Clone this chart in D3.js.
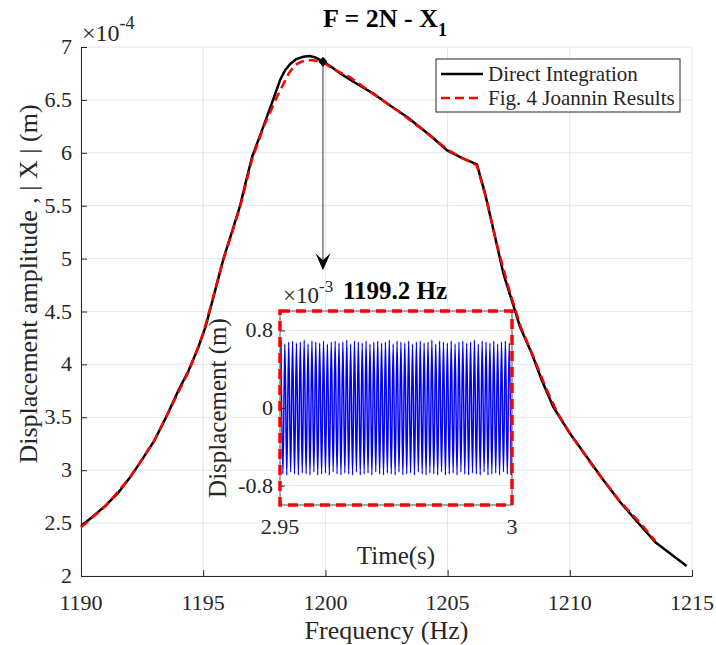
<!DOCTYPE html>
<html>
<head>
<meta charset="utf-8">
<title>F = 2N - X1</title>
<script src="https://cdn.jsdelivr.net/npm/d3@7"></script>
<style>
  body { margin: 0; background: #fff; }
  svg text { font-family: "Liberation Serif", "Times New Roman", serif; fill: #262626; }
</style>
</head>
<body>
<script>
// Direct Integration (black solid), amplitude in 1e-4 m
var diFreq = [1190, 1190.5, 1191, 1191.5, 1192, 1192.5, 1193, 1193.5, 1194, 1194.4, 1194.8, 1195.1, 1195.4,
  1195.83, 1196.2, 1196.51, 1196.75, 1197.0, 1197.4, 1197.81, 1198.15, 1198.35, 1198.56, 1198.8, 1199.1,
  1199.35, 1199.6, 1199.92, 1200.25, 1200.6, 1201.3, 1201.96, 1202.6, 1203.33, 1204.35, 1204.96, 1205.6,
  1206.2, 1206.53, 1206.94, 1207.28, 1207.62, 1207.96, 1208.44, 1208.85, 1209.32, 1210.0, 1210.69,
  1211.37, 1212.05, 1212.73, 1213.5, 1214.78];
var diAmp = [2.473, 2.565, 2.665, 2.78, 2.93, 3.10, 3.28, 3.51, 3.76, 3.94, 4.16, 4.36, 4.62,
  5.0, 5.27, 5.5, 5.73, 5.96, 6.21, 6.47, 6.69, 6.78, 6.84, 6.885, 6.908,
  6.915, 6.90, 6.861, 6.81, 6.751, 6.65, 6.56, 6.455, 6.341, 6.152, 6.026, 5.95,
  5.89, 5.617, 5.207, 4.861, 4.609, 4.356, 4.105, 3.853, 3.6, 3.349, 3.128,
  2.907, 2.702, 2.52, 2.32, 2.095];

// Fig. 4 Joannin results (red dashed)
var jrFreq = [1190, 1191, 1192, 1193, 1193.65, 1194.4, 1195.0, 1195.8, 1196.5, 1197.0, 1197.5, 1198.0,
  1198.5, 1198.75, 1199.0, 1199.25, 1199.5, 1199.75, 1200.0, 1200.5, 1201.0, 1202.0, 1203.0, 1204.0,
  1205.0, 1205.6, 1206.2, 1206.6, 1207.0, 1207.5, 1208.0, 1208.5, 1209.0, 1209.5, 1210.0, 1211.0,
  1212.0, 1213.0, 1213.5];
var jrAmp = [2.46, 2.66, 2.93, 3.28, 3.58, 3.93, 4.29, 4.97, 5.48, 5.94, 6.26, 6.52,
  6.75, 6.83, 6.86, 6.875, 6.875, 6.86, 6.84, 6.77, 6.715, 6.55, 6.39, 6.215,
  6.03, 5.95, 5.88, 5.55, 5.15, 4.72, 4.35, 4.08, 3.79, 3.54, 3.35, 3.02,
  2.72, 2.47, 2.33];

var xTicks = [1190, 1195, 1200, 1205, 1210, 1215];
var yTicks = [2, 2.5, 3, 3.5, 4, 4.5, 5, 5.5, 6, 6.5, 7];

// inset: time response at 1199.2 Hz, displacement in 1e-3 m
var sigFreq = 1199.2;
var sigPeaks = [0.69, 0.66, 0.68, 0.69, 0.67, 0.68, 0.70, 0.66, 0.69, 0.68, 0.67, 0.69, 0.66, 0.68, 0.69, 0.67,
  0.68, 0.70, 0.66, 0.69, 0.68, 0.67, 0.69, 0.66, 0.68, 0.69, 0.67, 0.68, 0.70, 0.66, 0.69, 0.68,
  0.67, 0.69, 0.66, 0.68, 0.69, 0.67, 0.68, 0.70, 0.66, 0.69, 0.68, 0.67, 0.69, 0.66, 0.68, 0.69,
  0.67, 0.68, 0.70, 0.66, 0.69, 0.68, 0.67, 0.69, 0.66, 0.68, 0.69, 0.67];
var sigTroughs = [-0.68, -0.69, -0.66, -0.68, -0.69, -0.67, -0.68, -0.69, -0.66, -0.69, -0.68, -0.67, -0.69, -0.66, -0.68, -0.69,
  -0.67, -0.68, -0.69, -0.66, -0.69, -0.68, -0.67, -0.69, -0.66, -0.68, -0.69, -0.67, -0.68, -0.69, -0.66, -0.69,
  -0.68, -0.67, -0.69, -0.66, -0.68, -0.69, -0.67, -0.68, -0.69, -0.66, -0.69, -0.68, -0.67, -0.69, -0.66, -0.68,
  -0.69, -0.67, -0.68, -0.69, -0.66, -0.69, -0.68, -0.67, -0.69, -0.66, -0.68, -0.69];
var insetXTicks = [2.95, 3];
var insetXLabels = ["2.95", "3"];
var insetYTicks = [-0.8, 0, 0.8];

// annotation arrow (frequency, amplitude top, amplitude bottom)
var arrowFreq = 1199.9, arrowTop = 6.86, arrowBottom = 4.89;

var FONT = "'Liberation Serif', 'Times New Roman', serif";
var W = 716, H = 645;
var margin = {top: 47, right: 24, bottom: 69, left: 81};
var width = W - margin.left - margin.right,
    height = H - margin.top - margin.bottom;

var svg = d3.select("body").append("svg")
    .attr("width", W).attr("height", H);

var g = svg.append("g")
    .attr("transform", "translate(" + margin.left + "," + margin.top + ")");

var x = d3.scaleLinear().domain([1190, 1215]).range([0, width]);
var y = d3.scaleLinear().domain([2, 7]).range([height, 0]);

// grid
g.append("g").selectAll("line").data(yTicks).enter().append("line")
    .attr("x1", 0).attr("x2", width)
    .attr("y1", d => y(d)).attr("y2", d => y(d))
    .attr("stroke", "#e6e6e6").attr("stroke-width", 1);
g.append("g").selectAll("line").data(xTicks).enter().append("line")
    .attr("y1", 0).attr("y2", height)
    .attr("x1", d => x(d)).attr("x2", d => x(d))
    .attr("stroke", "#e6e6e6").attr("stroke-width", 1);

// axes: line + inward ticks from d3, labels drawn as plain text
var xAxis = g.append("g")
    .attr("transform", "translate(0," + height + ")")
    .call(d3.axisBottom(x).tickValues(xTicks).tickFormat("").tickSizeInner(-6).tickSizeOuter(0));
var yAxis = g.append("g")
    .call(d3.axisLeft(y).tickValues(yTicks).tickFormat("").tickSizeInner(-6).tickSizeOuter(0));
[xAxis, yAxis].forEach(function(a) {
    a.select(".domain").attr("stroke", "#262626");
    a.selectAll(".tick line").attr("stroke", "#262626");
});
g.append("g").selectAll("text").data(xTicks).enter().append("text")
    .attr("x", d => x(d)).attr("y", height + 34)
    .attr("text-anchor", "middle").attr("font-family", FONT).style("font-size", "22px")
    .text(d => String(d));
g.append("g").selectAll("text").data(yTicks).enter().append("text")
    .attr("x", -9).attr("y", d => y(d) + 7)
    .attr("text-anchor", "end").attr("font-family", FONT).style("font-size", "22px")
    .text(d => String(d));

// curves
var line = d3.line().x(d => x(d[0])).y(d => y(d[1]));
g.append("path")
    .datum(diFreq.map((f, i) => [f, diAmp[i]]))
    .attr("d", line).attr("fill", "none")
    .attr("stroke", "#000").attr("stroke-width", 2.5).attr("stroke-linejoin", "round");
g.append("path")
    .datum(jrFreq.map((f, i) => [f, jrAmp[i]]))
    .attr("d", line).attr("fill", "none")
    .attr("stroke", "#ff0000").attr("stroke-width", 2.5)
    .attr("stroke-dasharray", "9,5");

// arrow annotation
var ax = x(arrowFreq), ay1 = y(arrowTop), ay2 = y(arrowBottom);
g.append("line")
    .attr("x1", ax).attr("x2", ax).attr("y1", ay1).attr("y2", ay2 - 8)
    .attr("stroke", "#333").attr("stroke-width", 1);
g.append("path")
    .attr("d", "M" + ax + "," + ay2 + " L" + (ax - 7.5) + "," + (ay2 - 17) +
        " L" + ax + "," + (ay2 - 10) + " L" + (ax + 7.5) + "," + (ay2 - 17) + " Z")
    .attr("fill", "#000");
g.append("path")
    .attr("d", "M" + ax + "," + (ay1 - 5) + " L" + (ax + 4.5) + "," + ay1 + " L" + ax + "," + (ay1 + 5) +
        " L" + (ax - 4.5) + "," + ay1 + " Z")
    .attr("fill", "#000");

// exponent label
var ex = svg.append("text").attr("x", 82).attr("y", 41).style("font-size", "24px");
ex.append("tspan").text("\u00d710");
ex.append("tspan").attr("dy", -12).style("font-size", "18px").text("-4");

// title
var tt = svg.append("text").attr("x", 323).attr("y", 27)
    .style("font-size", "26px").style("font-weight", "bold").style("fill", "#000");
tt.append("tspan").text("F = 2N - X");
tt.append("tspan").attr("dy", 9).style("font-size", "18px").text("1");

// axis labels
svg.append("text").attr("x", margin.left + width / 2).attr("y", 639)
    .attr("text-anchor", "middle").style("font-size", "26px").text("Frequency (Hz)");
svg.append("text")
    .attr("transform", "translate(37," + 284 + ")rotate(-90)")
    .attr("text-anchor", "middle").style("font-size", "26px")
    .text("Displacement amplitude , | X | (m)");

// legend
var lg = svg.append("g").attr("transform", "translate(436,59)");
lg.append("rect").attr("width", 244).attr("height", 53)
    .attr("fill", "#fff").attr("stroke", "#262626").attr("stroke-width", 1);
lg.append("line").attr("x1", 5).attr("x2", 47).attr("y1", 15).attr("y2", 15)
    .attr("stroke", "#000").attr("stroke-width", 2.5);
lg.append("line").attr("x1", 5).attr("x2", 47).attr("y1", 39).attr("y2", 39)
    .attr("stroke", "#ff0000").attr("stroke-width", 2.5).attr("stroke-dasharray", "9,5");
lg.append("text").attr("x", 52).attr("y", 22).style("font-size", "21px").text("Direct Integration");
lg.append("text").attr("x", 52).attr("y", 46).style("font-size", "21px").text("Fig. 4 Joannin Results");

// ---- inset ----
var inset = {left: 280, top: 311, width: 232, height: 194};
var ig = svg.append("g").attr("transform", "translate(" + inset.left + "," + inset.top + ")");
var ix = d3.scaleLinear().domain([2.95, 3]).range([0, inset.width]);
var iy = d3.scaleLinear().domain([-1, 1]).range([inset.height, 0]);

ig.append("rect").attr("width", inset.width).attr("height", inset.height).attr("fill", "#fff");
ig.append("g").selectAll("line").data(insetYTicks).enter().append("line")
    .attr("x1", 0).attr("x2", inset.width)
    .attr("y1", d => iy(d)).attr("y2", d => iy(d))
    .attr("stroke", "#e6e6e6");

var period = 1 / sigFreq;
var sigPts = [];
sigPeaks.forEach(function(p, k) {
    sigPts.push([2.95 + (k + 0.25) * period, p]);
    sigPts.push([2.95 + (k + 0.75) * period, sigTroughs[k]]);
});
ig.append("path")
    .datum(sigPts)
    .attr("d", d3.line().x(d => ix(d[0])).y(d => iy(d[1])).curve(d3.curveMonotoneX))
    .attr("fill", "none").attr("stroke", "#0000ff").attr("stroke-width", 1.5);

var iyAxis = ig.append("g")
    .call(d3.axisLeft(iy).tickValues(insetYTicks).tickFormat("").tickSizeInner(-5).tickSizeOuter(0));
var ixAxis = ig.append("g").attr("transform", "translate(0," + inset.height + ")")
    .call(d3.axisBottom(ix).tickValues(insetXTicks).tickFormat("").tickSizeInner(-5).tickSizeOuter(0));
[iyAxis, ixAxis].forEach(function(a) {
    a.select(".domain").remove();
    a.selectAll(".tick line").attr("stroke", "#262626");
});
ig.append("g").selectAll("text").data(insetYTicks).enter().append("text")
    .attr("x", -7).attr("y", d => iy(d) + 7)
    .attr("text-anchor", "end").attr("font-family", FONT).style("font-size", "22px")
    .text(d => String(d));
ig.append("g").selectAll("text").data(insetXTicks).enter().append("text")
    .attr("x", d => ix(d)).attr("y", inset.height + 29)
    .attr("text-anchor", "middle").attr("font-family", FONT).style("font-size", "22px")
    .text((d, i) => insetXLabels[i]);

ig.append("rect").attr("width", inset.width).attr("height", inset.height)
    .attr("fill", "none").attr("stroke", "#4d4d4d").attr("stroke-width", 1);
ig.append("rect").attr("width", inset.width).attr("height", inset.height)
    .attr("fill", "none").attr("stroke", "#ff0000").attr("stroke-width", 3.5)
    .attr("stroke-dasharray", "10,6");

var iex = ig.append("text").attr("x", 3).attr("y", -8).style("font-size", "23px");
iex.append("tspan").text("\u00d710");
iex.append("tspan").attr("dy", -11).style("font-size", "17px").text("-3");
ig.append("text").attr("x", 63).attr("y", -12)
    .style("font-size", "25px").style("font-weight", "bold").style("fill", "#000").text("1199.2 Hz");
ig.append("text").attr("x", inset.width / 2).attr("y", inset.height + 59)
    .attr("text-anchor", "middle").style("font-size", "25px").text("Time(s)");
ig.append("text")
    .attr("transform", "translate(-54," + (inset.height / 2) + ")rotate(-90)")
    .attr("text-anchor", "middle").style("font-size", "25px").text("Displacement (m)");
</script>
</body>
</html>
